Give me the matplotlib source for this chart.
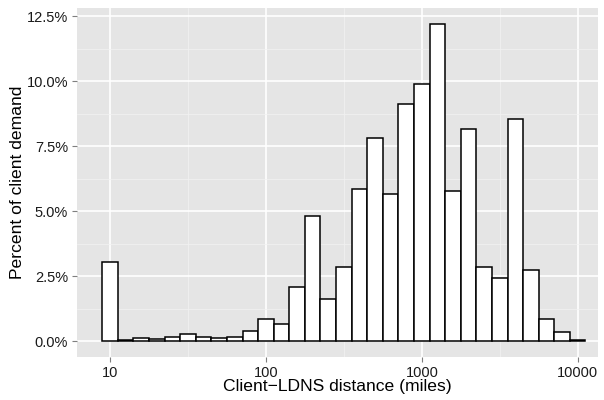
import numpy as np
import matplotlib
matplotlib.use("Agg")
from matplotlib import pyplot as plt
from matplotlib.ticker import FixedLocator, FuncFormatter

plt.rcParams['font.family'] = ['Liberation Sans', 'DejaVu Sans']

# histogram bins: log10 of distance (miles), bin width 0.1 decade
log_centers = [1.0, 1.1, 1.2, 1.3, 1.4, 1.5, 1.6, 1.7, 1.8, 1.9, 2.0,
               2.1, 2.2, 2.3, 2.4, 2.5, 2.6, 2.7, 2.8, 2.9, 3.0,
               3.1, 3.2, 3.3, 3.4, 3.5, 3.6, 3.7, 3.8, 3.9, 4.0]
bin_width = 0.1
percent = [3.05, 0.04, 0.14, 0.10, 0.15, 0.26, 0.18, 0.12, 0.15, 0.41, 0.87,
           0.67, 2.08, 4.82, 1.64, 2.86, 5.86, 7.82, 5.67, 9.13, 9.88,
           12.19, 5.79, 8.15, 2.86, 2.44, 8.54, 2.73, 0.85, 0.35, 0.03]

x_ticks = [10, 100, 1000, 10000]
x_minor = [10**1.5, 10**2.5, 10**3.5]
y_ticks = [0, 2.5, 5.0, 7.5, 10.0, 12.5]
y_minor = [1.25, 3.75, 6.25, 8.75, 11.25]

fig = plt.figure(figsize=(6.04, 4.0), dpi=100)
ax = fig.add_axes([0.128, 0.108, 0.862, 0.872])
ax.set_facecolor('#E5E5E5')

lc = np.array(log_centers)
left = 10 ** (lc - bin_width / 2)
right = 10 ** (lc + bin_width / 2)
ax.bar(left, percent, width=right - left, align='edge',
       facecolor='white', edgecolor='black', linewidth=1.1, zorder=3)

ax.set_xscale('log')
ax.set_xlim(10**0.79, 10**4.13)
ax.set_ylim(-0.6, 12.81)

ax.xaxis.set_major_locator(FixedLocator(x_ticks))
ax.xaxis.set_minor_locator(FixedLocator(x_minor))
ax.xaxis.set_major_formatter(FuncFormatter(lambda v, p: '%d' % round(v)))
ax.xaxis.set_minor_formatter(FuncFormatter(lambda v, p: ''))
ax.yaxis.set_major_locator(FixedLocator(y_ticks))
ax.yaxis.set_minor_locator(FixedLocator(y_minor))
ax.yaxis.set_major_formatter(FuncFormatter(lambda v, p: '%.1f%%' % v))

ax.grid(which='major', color='white', linewidth=1.2, zorder=1)
ax.grid(which='minor', color='#F2F2F2', linewidth=0.5, zorder=1)
ax.set_axisbelow(True)

for s in ax.spines.values():
    s.set_visible(False)

ax.tick_params(which='major', length=3.6, width=0.8, color='#7F7F7F',
               labelsize=10.5, labelcolor='#1A1A1A', pad=3)
ax.tick_params(which='minor', length=0)

ax.set_xlabel('Client\u2212LDNS distance (miles)', fontsize=12.6, labelpad=-1)
ax.set_ylabel('Percent of client demand', fontsize=12.6, labelpad=1)

fig.savefig('out.png', dpi=100)
